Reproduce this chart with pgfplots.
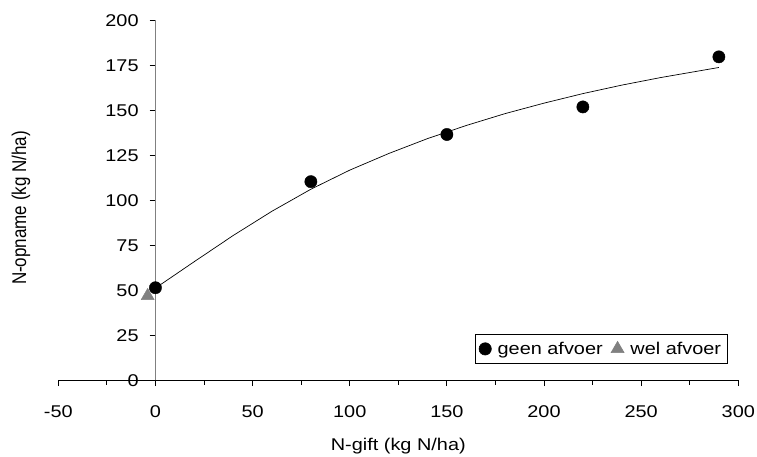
\documentclass[border=0pt]{standalone}
\usepackage{pgfplots}
\pgfplotsset{compat=1.18}
\usepackage{fontspec}
\setmainfont{Liberation Sans}
\definecolor{triG}{RGB}{128,128,128}
\begin{document}
\begin{tikzpicture}
\path[use as bounding box] (-58.3pt,-76.3pt) rectangle (698.7pt,380.5pt);
\begin{axis}[
  at={(0pt,0pt)}, anchor=south west,
  scale only axis, width=680pt, height=360.2pt,
  xmin=-50, xmax=300, ymin=0, ymax=200,
  axis x line=bottom, axis y line=center,
  axis line style={-},
  x axis line style={black, line width=0.8pt},
  y axis line style={triG, line width=0.8pt},
  hide obscured x ticks=false, hide obscured y ticks=false,
  xtick={-50,0,...,300}, ytick={0,25,...,200},
  minor x tick num=1,
  tick align=outside,
  major tick length=5.7pt, minor tick length=4pt,
  tick style={black, line width=0.8pt},
  /pgf/number format/assume math mode=true,
  font=\fontsize{17}{20}\selectfont,
  every tick label/.append style={xscale=1.17},
  xticklabel style={yshift=-16pt},
  yticklabel style={xshift=-6pt},
  xlabel={N-gift (kg N/ha)}, ylabel={N-opname (kg N/ha)},
  every axis x label/.style={at={(rel axis cs:0.5,0)}, anchor=base, yshift=-70pt, xscale=1.17},
  every axis y label/.style={at={(rel axis cs:0,0.479)}, anchor=center, xshift=-37.4pt, rotate=90, yscale=1.17},
  legend style={at={(rel axis cs:1,0)}, anchor=south east, xshift=-10.6pt, yshift=16.4pt,
    draw=black, line width=0.6pt, font=\fontsize{17}{20}\selectfont, nodes={xscale=1.17},
    inner xsep=4pt, inner ysep=6pt,
    /tikz/every odd column/.append style={column sep=4pt},
    /tikz/every even column/.append style={column sep=6pt}},
  legend image code/.code={\draw[#1] plot coordinates {(6pt,0pt)};},
  legend columns=2,
  legend cell align=left,
  clip=false,
]
\addplot[only marks, mark=triangle*, mark size=7.5pt, draw=triG, fill=triG, forget plot]
  coordinates {(-4,47)};
\addplot[black, line width=0.7pt, forget plot] coordinates {
  (0,51.3) (20,66) (40,80.5) (60,94) (80,106.2) (100,116.8) (120,126) (140,134.3)
  (160,141.6) (180,148.2) (200,154) (220,159.3) (240,164) (260,168.2) (290,173.8)};
\addplot[only marks, mark=*, mark size=6.15pt, black] coordinates {
  (0,51.5) (80,110.4) (150,136.6) (220,151.9) (290,179.7)};
\addlegendentry{geen afvoer}
\addlegendimage{only marks, mark=triangle*, mark size=7.5pt, draw=triG, fill=triG}
\addlegendentry{wel afvoer}
\end{axis}
\end{tikzpicture}
\end{document}
